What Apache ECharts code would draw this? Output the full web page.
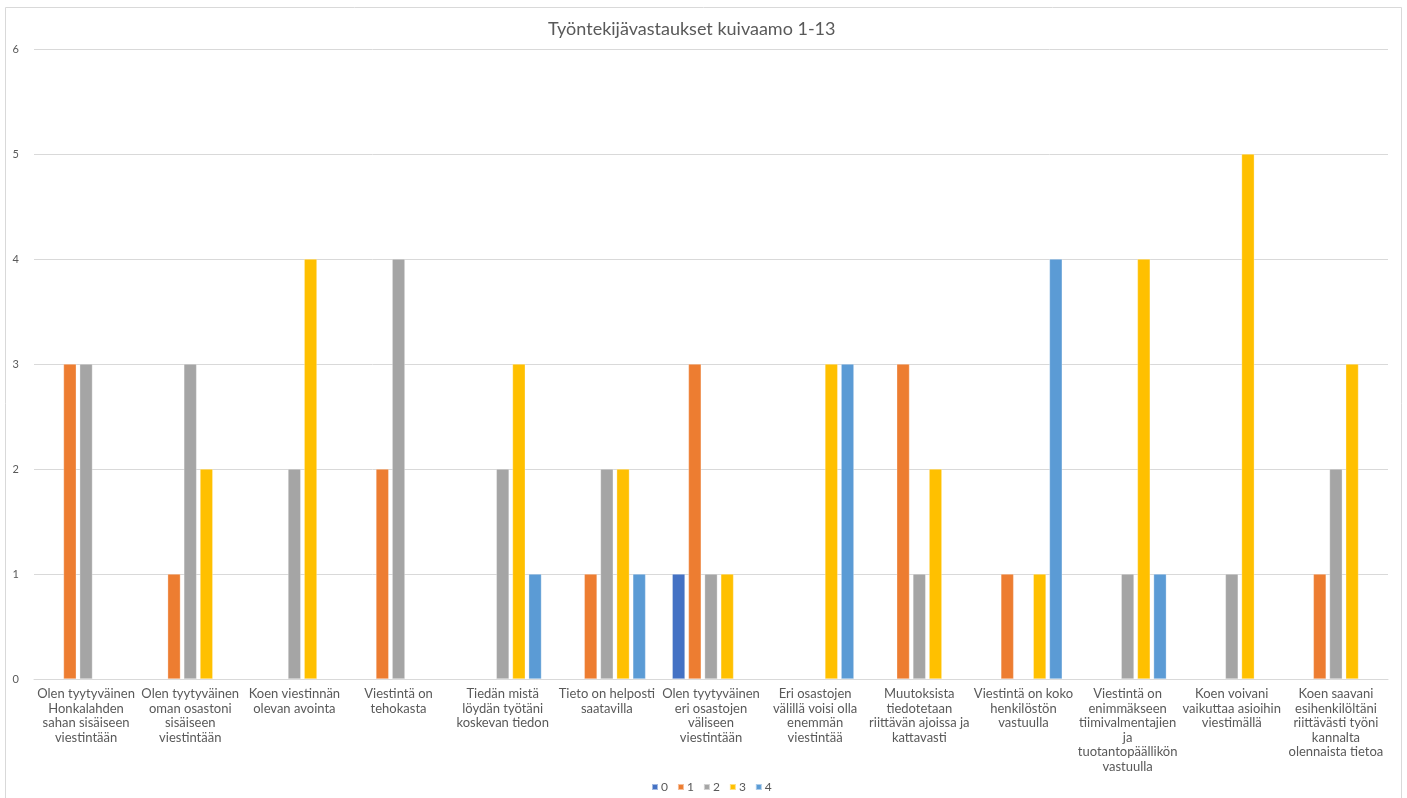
<!DOCTYPE html>
<html>
<head>
<meta charset="utf-8">
<script src="https://cdn.jsdelivr.net/npm/echarts@6/dist/echarts.min.js"></script>
<style>
html,body{margin:0;padding:0;background:#fff;}
#chart{width:1407px;height:798px;}
</style>
</head>
<body>
<div id="chart"></div>
<script>
const categories = [
  "Olen tyytyväinen\nHonkalahden\nsahan sisäiseen\nviestintään",
  "Olen tyytyväinen\noman osastoni\nsisäiseen\nviestintään",
  "Koen viestinnän\nolevan avointa",
  "Viestintä on\ntehokasta",
  "Tiedän mistä\nlöydän työtäni\nkoskevan tiedon",
  "Tieto on helposti\nsaatavilla",
  "Olen tyytyväinen\neri osastojen\nväliseen\nviestintään",
  "Eri osastojen\nvälillä voisi olla\nenemmän\nviestintää",
  "Muutoksista\ntiedotetaan\nriittävän ajoissa ja\nkattavasti",
  "Viestintä on koko\nhenkilöstön\nvastuulla",
  "Viestintä on\nenimmäkseen\ntiimivalmentajien\nja\ntuotantopäällikön\nvastuulla",
  "Koen voivani\nvaikuttaa asioihin\nviestimällä",
  "Koen saavani\nesihenkilöltäni\nriittävästi työni\nkannalta\nolennaista tietoa"
];
const seriesNames = ["0", "1", "2", "3", "4"];
const s0 = [null, null, null, null, null, null, 1, null, null, null, null, null, null];
const s1 = [3, 1, null, 2, null, 1, 3, null, 3, 1, null, null, 1];
const s2 = [3, 3, 2, 4, 2, 2, 1, null, 1, null, 1, 1, 2];
const s3 = [null, 2, 4, null, 3, 2, 1, 3, 2, 1, 4, 5, 3];
const s4 = [null, null, null, null, 1, 1, null, 3, null, 4, 1, null, null];
const yTicks = [0, 1, 2, 3, 4, 5, 6];
const colors = ["#4472C4", "#ED7D31", "#A5A5A5", "#FFC000", "#5B9BD5"];

const allValues = [s0, s1, s2, s3, s4];
const chart = echarts.init(document.getElementById('chart'), null, {renderer: 'canvas'});
const font = 'Lato, "Open Sans", sans-serif';
chart.setOption({
  animation: false,
  color: colors,
  textStyle: {fontFamily: font},
  title: {
    text: "Työntekijävastaukset kuivaamo 1-13",
    left: 543,
    top: 15,
    textStyle: {fontSize: 18, fontWeight: 'normal', color: '#595959', fontFamily: font}
  },
  graphic: [{
    type: 'rect',
    shape: {x: 5.5, y: 7.5, width: 1396, height: 800},
    style: {fill: 'none', stroke: '#d9d9d9', lineWidth: 1},
    silent: true
  }],
  legend: {
    data: seriesNames,
    top: 781,
    left: 651,
    padding: 0,
    itemWidth: 6,
    itemHeight: 6,
    itemGap: 9,
    icon: 'rect',
    textStyle: {fontSize: 12, color: '#595959', fontFamily: font, padding: [0, 0, 0, -2]}
  },
  grid: {left: 34, right: 19, top: 49, bottom: 119, containLabel: false},
  xAxis: {
    type: 'category',
    data: categories,
    axisLine: {lineStyle: {color: '#d9d9d9'}},
    axisTick: {show: false},
    axisLabel: {interval: 0, color: '#595959', fontSize: 13, lineHeight: 14.5, margin: 8, fontFamily: font}
  },
  yAxis: {
    type: 'value',
    min: yTicks[0],
    max: yTicks[yTicks.length - 1],
    interval: 1,
    axisLine: {show: false},
    axisTick: {show: false},
    splitLine: {lineStyle: {color: '#d9d9d9'}},
    axisLabel: {color: '#595959', fontSize: 11, margin: 15, fontFamily: font}
  },
  series: seriesNames.map((n, i) => ({
    name: n,
    type: 'bar',
    data: allValues[i],
    barGap: '26%',
    barCategoryGap: '25.5%',
    itemStyle: {color: colors[i], borderColor: 'rgba(255,255,255,0.5)', borderWidth: 0.6}
  }))
});
</script>
</body>
</html>
